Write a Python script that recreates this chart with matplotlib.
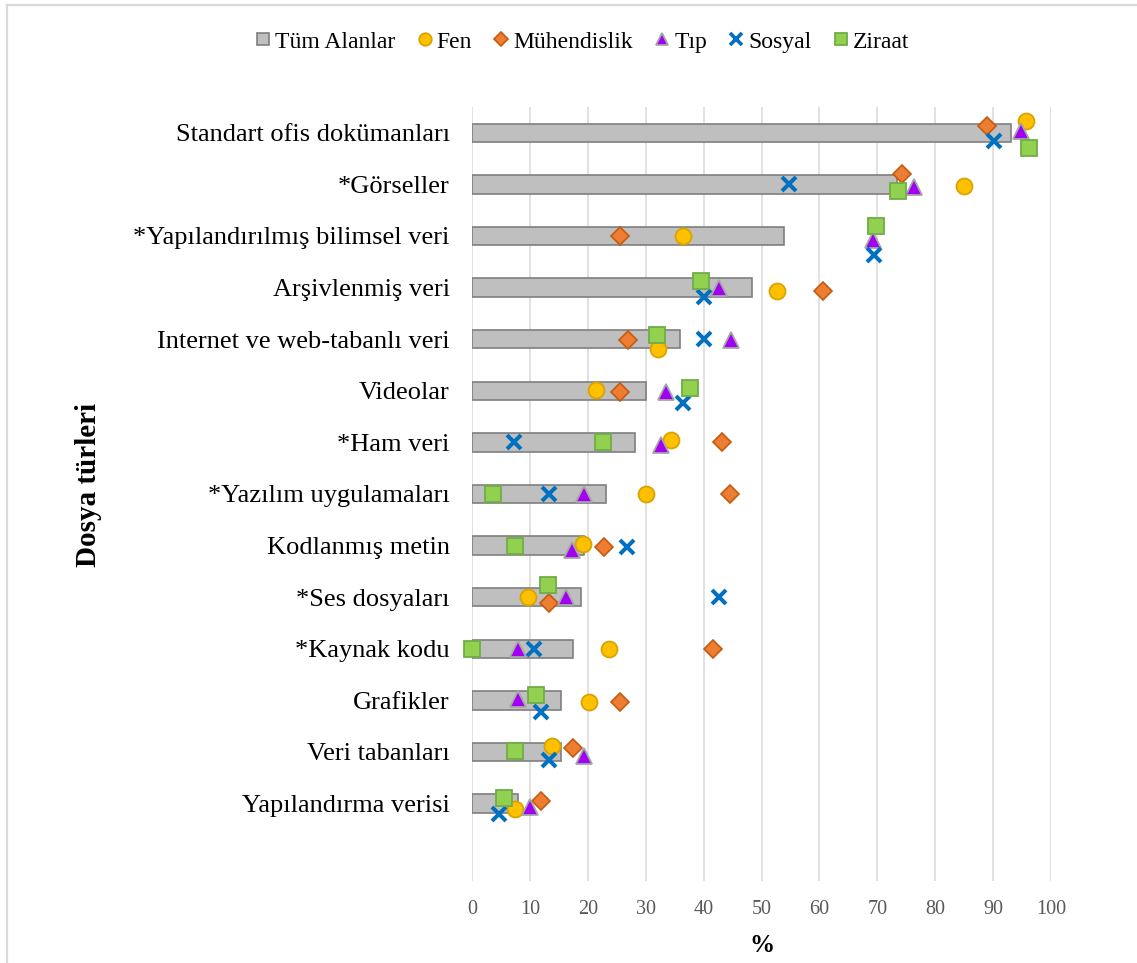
import matplotlib.pyplot as plt
from matplotlib.lines import Line2D

plt.rcParams["font.family"] = ["Liberation Serif", "DejaVu Serif"]

# file types, top to bottom
categories = [
    "Standart ofis dokümanları",
    "*Görseller",
    "*Yapılandırılmış bilimsel veri",
    "Arşivlenmiş veri",
    "Internet ve web-tabanlı veri",
    "Videolar",
    "*Ham veri",
    "*Yazılım uygulamaları",
    "Kodlanmış metin",
    "*Ses dosyaları",
    "*Kaynak kodu",
    "Grafikler",
    "Veri tabanları",
    "Yapılandırma verisi",
]

tum_alanlar = [93.1, 73.4, 53.8, 48.3, 35.9, 30.0, 28.2, 23.2, 19.4, 18.8, 17.5, 15.3, 15.3, 8.0]
fen = [95.6, 84.9, 36.4, 52.6, 32.1, 21.4, 34.4, 30.0, 19.2, 9.6, 23.6, 20.2, 13.8, 7.4]
muhendislik = [89.0, 74.2, 25.5, 60.7, 26.9, 25.5, 43.1, 44.5, 22.8, 13.3, 41.7, 25.5, 17.4, 12.0]
tip = [94.8, 76.4, 69.3, 42.7, 44.8, 33.5, 32.6, 19.3, 17.2, 16.3, 8.0, 8.0, 19.3, 10.0]
sosyal = [90.2, 54.7, 69.4, 40.1, 40.1, 36.5, 7.2, 13.3, 26.7, 42.6, 10.7, 12.0, 13.3, 4.7]
ziraat = [96.2, 73.5, 69.7, 39.5, 31.9, 37.6, 22.6, 3.6, 7.4, 13.1, 0.0, 11.1, 7.4, 5.5]

# small vertical nudges (in row units) so overlapping markers stay visible
nudge_fen = [-0.23, 0.03, 0, 0.06, 0.19, -0.02, -0.04, 0, -0.04, 0, 0, 0.04, -0.12, 0.1]
nudge_muh = [-0.14, -0.21, 0, 0.06, 0.01, 0.02, -0.01, 0, 0.02, 0.12, 0, 0.04, -0.07, -0.05]
nudge_tip = [-0.03, 0.05, 0.08, 0.01, 0.01, 0.02, 0.06, 0.01, 0.08, 0, 0, -0.02, 0.08, 0.06]
nudge_sos = [0.16, 0, 0.36, 0.19, 0, 0.24, 0, 0, 0.02, 0, 0, 0.23, 0.16, 0.2]
nudge_zir = [0.29, 0.13, -0.2, -0.13, -0.09, -0.06, -0.01, 0, 0, -0.23, 0, -0.11, -0.02, -0.1]

series = [
    ("Fen", fen, nudge_fen, dict(marker="o", ms=11.5, mfc="#FFC000", mec="#D9A300", mew=1.3)),
    ("Mühendislik", muhendislik, nudge_muh, dict(marker="D", ms=9.3, mfc="#ED7D31", mec="#C55A11", mew=1.2)),
    ("Tıp", tip, nudge_tip, dict(marker="^", ms=11.5, mfc="#A100F2", mec="#A6A6A6", mew=1.3)),
    ("Sosyal", sosyal, nudge_sos, dict(marker="x", ms=10.5, mfc="#0070C0", mec="#0070C0", mew=2.9)),
    ("Ziraat", ziraat, nudge_zir, dict(marker="s", ms=11.5, mfc="#92D050", mec="#70AD47", mew=1.3)),
]

fig = plt.figure(figsize=(11.37, 9.63), dpi=100)
ax = fig.add_axes([0.4151, 0.0852, 0.5093, 0.8037])

rows = list(range(len(categories)))
ax.barh(rows, tum_alanlar, height=0.355, color="#BFBFBF", edgecolor="#7F7F7F",
        linewidth=1.2, zorder=2)

for name, values, nudge, style in series:
    ys = [r + d for r, d in zip(rows, nudge)]
    ax.plot(values, ys, linestyle="none", zorder=3, clip_on=False, **style)

ax.set_xlim(0, 100)
ax.set_ylim(14.5, -0.5)
ax.set_xticks(range(0, 101, 10))
ax.set_yticks(rows)
ax.set_yticklabels(categories, fontsize=19)
ax.tick_params(axis="y", length=0, pad=16)
ax.tick_params(axis="x", length=0, pad=14, labelsize=14.5, labelcolor="#595959")
ax.grid(axis="x", color="#D9D9D9", linewidth=1.1, zorder=0)
ax.set_axisbelow(True)
for spine in ax.spines.values():
    spine.set_visible(False)

fig.text(88 / 1137, 1 - 485 / 963, "Dosya türleri", rotation=90, fontsize=21,
         fontweight="bold", ha="center", va="center")
fig.text(762 / 1137, 1 - 945 / 963, "%", fontsize=18, fontweight="bold",
         ha="center", va="center")

handles = [Line2D([], [], linestyle="none", marker="s", ms=8, mfc="#BFBFBF",
                  mec="#7F7F7F", mew=1.2)]
labels = ["Tüm Alanlar"]
for name, values, nudge, style in series:
    legend_style = dict(style)
    legend_style["ms"] = style["ms"] * 0.78
    if style["marker"] == "x":
        legend_style["mew"] = 2.6
    handles.append(Line2D([], [], linestyle="none", **legend_style))
    labels.append(name)

fig.legend(handles, labels, loc="center", bbox_to_anchor=(582 / 1137, 1 - 42 / 963),
           ncol=6, frameon=False, fontsize=17, handlelength=0.7, handletextpad=0.15,
           columnspacing=0.9, borderpad=0)

# chart border (only the top and left edges fall inside the image)
fig.add_artist(Line2D([7 / 1137, 7 / 1137], [0, 1 - 5 / 963], transform=fig.transFigure,
                      color="#D9D9D9", linewidth=1.6))
fig.add_artist(Line2D([7 / 1137, 1], [1 - 5 / 963, 1 - 5 / 963], transform=fig.transFigure,
                      color="#D9D9D9", linewidth=1.6))

fig.savefig("out.png", dpi=100)
